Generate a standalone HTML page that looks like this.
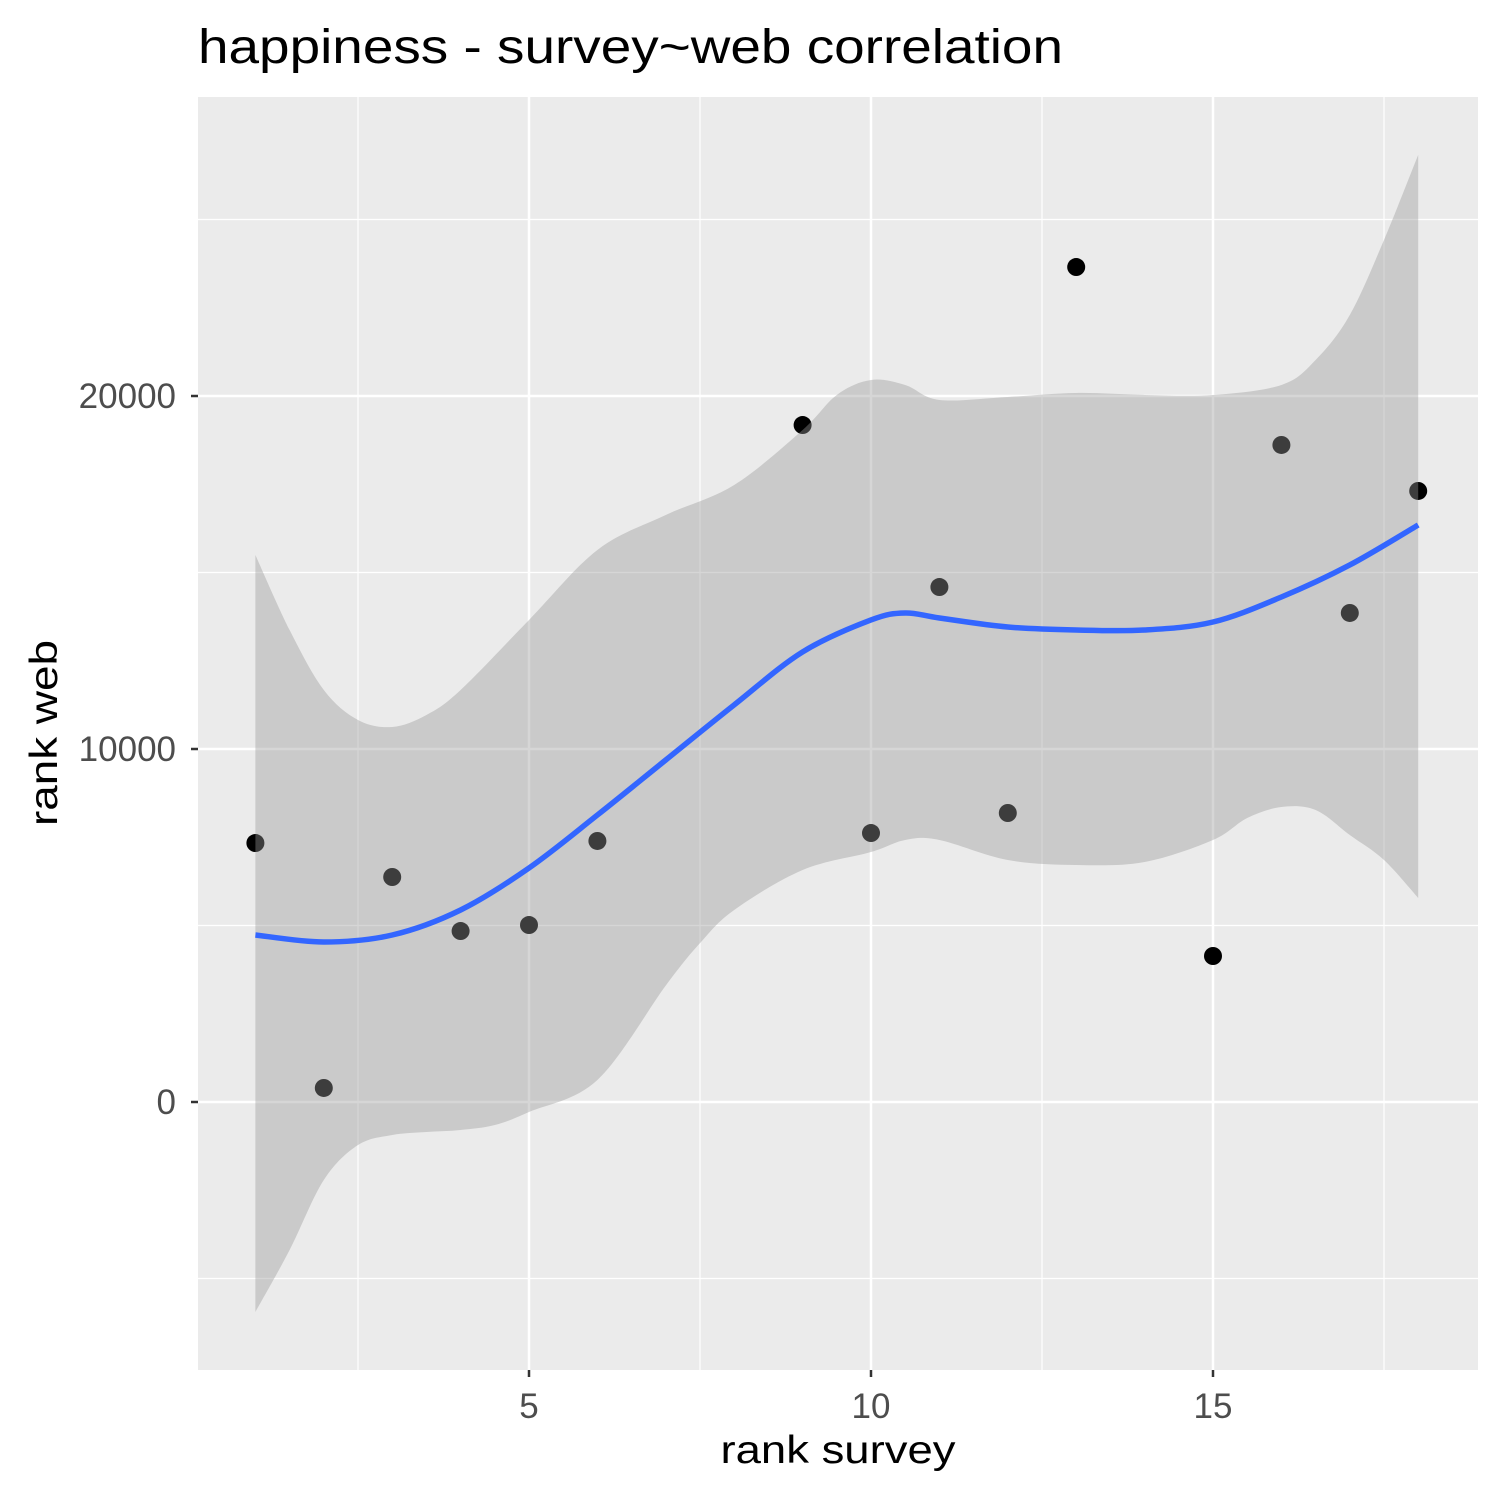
<!DOCTYPE html>
<html><head><meta charset="utf-8"><style>
body{margin:0;background:#fff}
svg text{font-family:"Liberation Sans",Arial,sans-serif}
</style></head><body>
<svg id="chart" width="1500" height="1500" xmlns="http://www.w3.org/2000/svg">
<rect width="1500" height="1500" fill="#fff"/>
<text x="198" y="63" font-size="48" textLength="865" lengthAdjust="spacingAndGlyphs" fill="#000">happiness - survey~web correlation</text>
<rect x="198" y="97" width="1280" height="1273" fill="#ebebeb"/>
<g id="grid"></g>
<g id="marks"></g>
<g id="axes"></g>
<text x="838" y="1463" font-size="39" textLength="235" lengthAdjust="spacingAndGlyphs" text-anchor="middle" fill="#000">rank survey</text>
<text transform="translate(57,733) rotate(-90)" font-size="39" textLength="186" lengthAdjust="spacingAndGlyphs" text-anchor="middle" fill="#000">rank web</text>
</svg>
<script>
const surveyRank=[1,2,3,4,5,6,9,10,11,12,13,15,16,17,18];
const webRank=[7337,397,6374,4844,5014,7394,19178,7620,14589,8187,23654,4136,18612,13853,17309];
const smoothX=[1,2,3,4,5,6,7,8,9,10,10.5,11,12,13,14,15,16,17,18];
const smoothY=[4731,4533,4731,5440,6630,8130,9690,11250,12750,13655,13853,13711,13456,13371,13371,13598,14306,15213,16346];
const upperX=[1,1.5,2,2.5,3,3.5,4,5,6,7,8,9,9.5,10,10.5,11,12,13,14,15,16,16.5,17,17.5,18];
const upperY=[15497,13372,11672,10822,10624,10964,11672,13655,15638,16630,17480,19038,20030,20455,20313,19888,19973,20086,20030,20030,20313,21021,22296,24421,26829];
const lowerX=[1,1.5,2,2.5,3,3.5,4,4.5,5,6,7,7.5,8,9,10,10.5,11,12,13,14,15,15.5,16,16.5,17,17.5,18];
const lowerY=[-5949,-4193,-2210,-1218,-935,-850,-793,-652,-283,623,3300,4500,5440,6573,7083,7423,7423,6856,6715,6800,7423,8046,8357,8272,7564,6856,5780];
const xMajor=[5,10,15], xMinor=[2.5,7.5,12.5,17.5];
const yMajor=[0,10000,20000], yMinor=[-5000,5000,15000,25000];
const xTickLabels=["5","10","15"], yTickLabels=["0","10000","20000"];

const sx=v=>529+(v-5)*68.4;
const sy=v=>1102-v*0.0353;
const NS="http://www.w3.org/2000/svg";
function mk(tag,attrs,parent){const e=document.createElementNS(NS,tag);for(const k in attrs)e.setAttribute(k,attrs[k]);parent.appendChild(e);return e;}
const grid=document.getElementById('grid'),marks=document.getElementById('marks'),axes=document.getElementById('axes');
xMinor.forEach(v=>{const l=mk('line',{x1:sx(v),x2:sx(v),y1:97,y2:1370,stroke:'#fff','stroke-width':1.2},grid);

});
yMinor.forEach(v=>{const l=mk('line',{x1:198,x2:1478,y1:sy(v),y2:sy(v),stroke:'#fff','stroke-width':1.2},grid);

});
xMajor.forEach((v,i)=>{const l=mk('line',{x1:sx(v),x2:sx(v),y1:97,y2:1370,stroke:'#fff','stroke-width':2.5},grid);


const t=mk('line',{x1:sx(v),x2:sx(v),y1:1370,y2:1377,stroke:'#333','stroke-width':2.5},axes);


const tx=mk('text',{x:sx(v),y:1418,'font-size':35,'text-anchor':'middle',fill:'#4d4d4d'},axes);tx.textContent=xTickLabels[i];

});
yMajor.forEach((v,i)=>{const l=mk('line',{x1:198,x2:1478,y1:sy(v),y2:sy(v),stroke:'#fff','stroke-width':2.5},grid);


const t=mk('line',{x1:191,x2:198,y1:sy(v),y2:sy(v),stroke:'#333','stroke-width':2.5},axes);


const tx=mk('text',{x:176,y:sy(v)+12,'font-size':35,'text-anchor':'end',fill:'#4d4d4d'},axes);tx.textContent=yTickLabels[i];

});
surveyRank.forEach((v,i)=>{const c=mk('circle',{cx:sx(v),cy:sy(webRank[i]),r:9,fill:'#000'},marks);

});
function cr(pts,start){let d=start?'M'+pts[0][0]+','+pts[0][1]:'L'+pts[0][0]+','+pts[0][1];
for(let i=0;i<pts.length-1;i++){const p0=pts[i-1]||pts[i],p1=pts[i],p2=pts[i+1],p3=pts[i+2]||p2;
d+=`C${p1[0]+(p2[0]-p0[0])/6},${p1[1]+(p2[1]-p0[1])/6} ${p2[0]-(p3[0]-p1[0])/6},${p2[1]-(p3[1]-p1[1])/6} ${p2[0]},${p2[1]}`;}return d;}
const up=upperX.map((x,i)=>[sx(x),sy(upperY[i])]);
const lo=lowerX.map((x,i)=>[sx(x),sy(lowerY[i])]).reverse();
const band=mk('path',{d:cr(up,true)+cr(lo,false)+'Z',fill:'#999','fill-opacity':0.4},marks);


const sm=smoothX.map((x,i)=>[sx(x),sy(smoothY[i])]);
const line=mk('path',{d:cr(sm,true),fill:'none',stroke:'#3366ff','stroke-width':5.5},marks);


</script>
</body></html>
